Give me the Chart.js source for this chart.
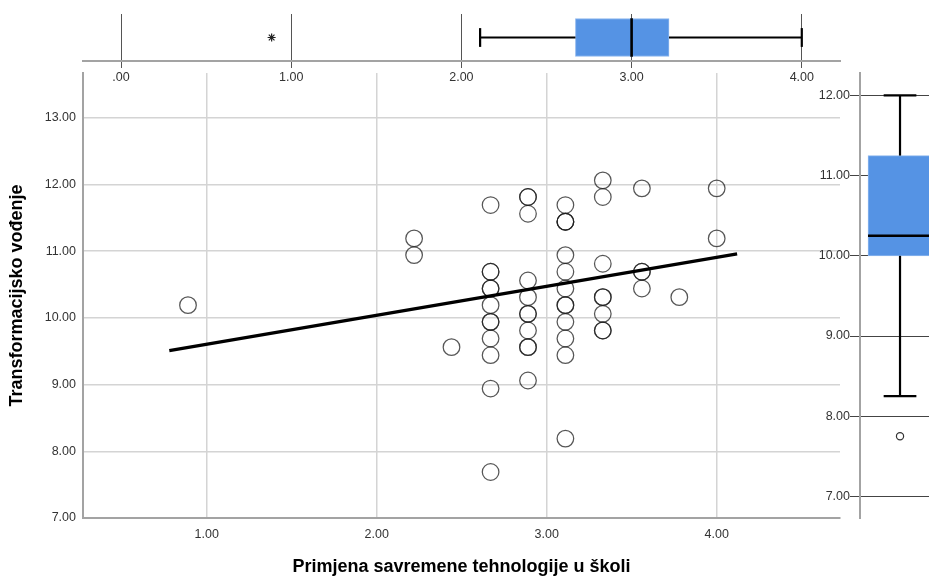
<!DOCTYPE html>
<html>
<head>
<meta charset="utf-8">
<script src="https://cdn.jsdelivr.net/npm/chart.js@4.4.1/dist/chart.umd.min.js"></script>
<style>
  html, body { margin: 0; padding: 0; background: #fff; overflow: hidden; }
  #wrap { position: relative; width: 929px; height: 576px; }
  #wrap canvas { position: absolute; left: 0; top: 0; }
</style>
</head>
<body>
<div id="wrap">
  <canvas id="scatter" width="929" height="576"></canvas>
  <canvas id="box-top" width="929" height="576"></canvas>
  <canvas id="box-right" width="929" height="576"></canvas>
</div>
<script>
// x: Primjena savremene tehnologije u školi, y: Transformacijsko vođenje
// one entry per respondent, grouped by x level (repeated values = overlapping circles)
const techLevels = [0.89, 2.22, 2.44, 2.67, 2.89, 3.11, 3.33, 3.56, 3.78, 4.00];
const leadByLevel = [
  [10.19],
  [11.19, 10.94],
  [9.56],
  [11.69, 10.69, 10.69, 10.44, 10.44, 10.19, 9.94, 9.94, 9.69, 9.44, 8.94, 7.69],
  [11.81, 11.81, 11.56, 10.56, 10.31, 10.06, 10.06, 9.81, 9.56, 9.56, 9.06],
  [11.69, 11.44, 11.44, 11.44, 10.94, 10.69, 10.44, 10.19, 10.19, 9.94, 9.69, 9.44, 8.19],
  [12.06, 11.81, 10.81, 10.31, 10.31, 10.06, 9.81, 9.81],
  [11.94, 10.69, 10.69, 10.44],
  [10.31],
  [11.94, 11.19],
];

// linear fit line (total)
const fitX = [0.78, 4.12];
const fitY = [9.51, 10.96];

// boxplots: low whisker, Q1, median, Q3, high whisker
const techBox = [2.11, 2.67, 3.00, 3.22, 4.00];
const techExtremes = [0.885];
const leadBox = [8.25, 10.00, 10.25, 11.25, 12.00];
const leadOutliers = [7.75];

// axis ticks
const techTicksMain = [1, 2, 3, 4];
const techTicksTop = [0, 1, 2, 3, 4];
const leadTicksMain = [7, 8, 9, 10, 11, 12, 13];
const leadTicksRight = [7, 8, 9, 10, 11, 12];

Chart.defaults.font.family = '"Liberation Sans", Arial, sans-serif';
Chart.defaults.color = '#333';
Chart.defaults.animation = false;
Chart.defaults.events = [];
Chart.defaults.plugins.legend.display = false;
Chart.defaults.plugins.tooltip.enabled = false;

const fmt = (v) => (v === 0 ? '.00' : Number(v).toFixed(2));
const tickFont = { size: 12.5 };
const titleFont = { size: 18, weight: 'bold', lineHeight: 1 };
const fixTicks = (values) => (scale) => { scale.ticks = values.map((value) => ({ value })); };

function seg(x1, y1, x2, y2, width = 2.2) {
  return {
    type: 'line',
    data: [{ x: x1, y: y1 }, { x: x2, y: y2 }],
    borderColor: '#000',
    borderWidth: width,
    pointRadius: 0,
    order: 0,
  };
}

// main scatter
const points = [];
techLevels.forEach((x, i) => leadByLevel[i].forEach((y) => points.push({ x, y })));

new Chart(document.getElementById('scatter'), {
  type: 'scatter',
  data: {
    datasets: [
      {
        type: 'line',
        data: fitX.map((x, i) => ({ x, y: fitY[i] })),
        borderColor: '#000',
        borderWidth: 3.3,
        pointRadius: 0,
        order: 0,
      },
      {
        data: points,
        pointRadius: 8.3,
        pointBorderWidth: 1.25,
        borderColor: 'rgba(30,30,30,0.75)',
        backgroundColor: 'rgba(255,255,255,0)',
        order: 1,
      },
    ],
  },
  options: {
    responsive: false,
    layout: { autoPadding: false, padding: { top: 73, right: 89, bottom: 0, left: 0 } },
    scales: {
      x: {
        type: 'linear',
        min: 0.2724,
        max: 4.7253,
        afterBuildTicks: fixTicks(techTicksMain),
        afterFit: (s) => { s.height = 58; },
        grid: { color: '#d4d4d4', lineWidth: 1.5, drawTicks: false },
        border: { color: '#a3a3a3', width: 2 },
        ticks: { font: tickFont, padding: 9, callback: fmt },
        title: {
          display: true,
          text: 'Primjena savremene tehnologije u školi',
          color: '#000',
          font: titleFont,
          padding: { top: 0, bottom: 0 },
        },
      },
      y: {
        type: 'linear',
        min: 7,
        max: 13.669,
        afterBuildTicks: fixTicks(leadTicksMain),
        afterFit: (s) => { s.width = 83; },
        grid: { color: '#d4d4d4', lineWidth: 1.5, drawTicks: false },
        border: { color: '#a3a3a3', width: 2 },
        ticks: { font: tickFont, padding: 7, callback: fmt },
        title: {
          display: true,
          text: 'Transformacijsko vođenje',
          color: '#000',
          font: titleFont,
          padding: { top: 8.5, bottom: 0 },
        },
      },
    },
  },
});

// boxplot along x, above the scatter
const [tLow, tQ1, tMed, tQ3, tHigh] = techBox;
new Chart(document.getElementById('box-top'), {
  type: 'scatter',
  data: {
    datasets: [
      {
        type: 'bar',
        indexAxis: 'y',
        data: [{ x: [tQ1, tQ3], y: 0.5 }],
        barThickness: 38,
        backgroundColor: '#5593e4',
        borderColor: '#8cb6ee',
        borderWidth: 1,
        borderSkipped: false,
        order: 2,
      },
      seg(tLow, 0.5, tQ1, 0.5),
      seg(tQ3, 0.5, tHigh, 0.5),
      seg(tLow, 0.3, tLow, 0.7),
      seg(tHigh, 0.3, tHigh, 0.7),
      seg(tMed, 0.09, tMed, 0.91, 2.6),
      {
        data: techExtremes.map((x) => ({ x, y: 0.5 })),
        pointStyle: 'star',
        pointRadius: 4,
        pointBorderWidth: 1.2,
        borderColor: '#222',
        order: 0,
      },
    ],
  },
  options: {
    responsive: false,
    layout: { autoPadding: false, padding: { top: 14, right: 89, bottom: 485, left: 83 } },
    scales: {
      x: {
        type: 'linear',
        offset: false,
        min: -0.2233,
        max: 4.2245,
        afterBuildTicks: fixTicks(techTicksTop),
        afterFit: (s) => { s.height = 30; },
        grid: { color: '#555', lineWidth: 1, offset: false, drawTicks: true, tickLength: 7, tickColor: '#555' },
        border: { color: '#a3a3a3', width: 2 },
        ticks: { font: tickFont, padding: 2, callback: fmt },
      },
      y: { type: 'linear', offset: false, min: 0, max: 1, display: false },
    },
  },
});

// boxplot along y, right of the scatter
const [lLow, lQ1, lMed, lQ3, lHigh] = leadBox;
const cx = 0.58;
new Chart(document.getElementById('box-right'), {
  type: 'scatter',
  data: {
    datasets: [
      {
        type: 'bar',
        data: [{ x: cx, y: [lQ1, lQ3] }],
        barThickness: 64,
        backgroundColor: '#5593e4',
        borderColor: '#8cb6ee',
        borderWidth: 1,
        borderSkipped: false,
        order: 2,
      },
      seg(cx, lQ3, cx, lHigh),
      seg(cx, lLow, cx, lQ1),
      seg(cx - 0.237, lHigh, cx + 0.237, lHigh),
      seg(cx - 0.237, lLow, cx + 0.237, lLow),
      seg(0.116, lMed, 1.05, lMed, 2.6),
      {
        data: leadOutliers.map((y) => ({ x: cx, y })),
        pointRadius: 3.6,
        pointBorderWidth: 1.2,
        borderColor: '#333',
        backgroundColor: '#fff',
        order: 0,
      },
    ],
  },
  options: {
    responsive: false,
    layout: { autoPadding: false, padding: { top: 73, right: 0, bottom: 58, left: 800 } },
    scales: {
      x: { type: 'linear', offset: false, grid: { offset: false }, min: 0, max: 1, display: false },
      y: {
        type: 'linear',
        offset: false,
        min: 6.731,
        max: 12.28,
        afterBuildTicks: fixTicks(leadTicksRight),
        afterFit: (s) => { s.width = 60; },
        grid: { color: '#444', lineWidth: 1, drawTicks: true, tickLength: 10, tickColor: '#444' },
        border: { color: '#a3a3a3', width: 2 },
        ticks: { font: tickFont, padding: 0, callback: fmt },
      },
    },
  },
});
</script>
</body>
</html>
